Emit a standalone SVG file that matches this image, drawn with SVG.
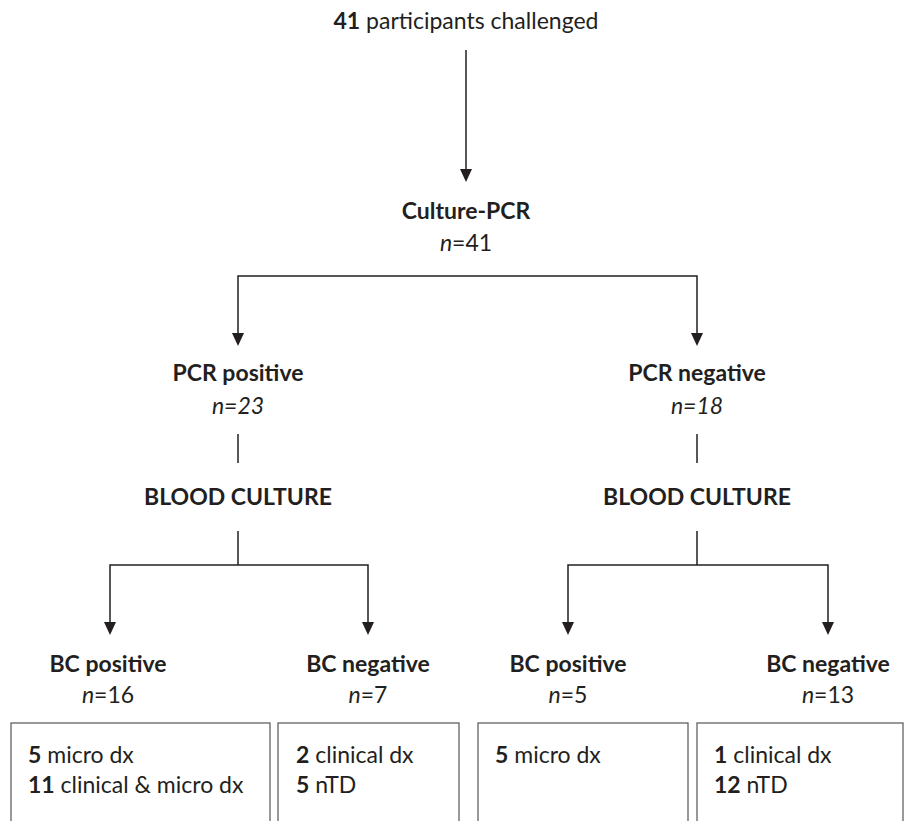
<svg xmlns="http://www.w3.org/2000/svg" width="904" height="821" viewBox="0 0 904 821">
<style>
text{font-family:Lato,"Liberation Sans",sans-serif;font-size:23px;fill:#231f20}
.c{text-anchor:middle}
.b{font-weight:bold}
.i{font-style:italic}
.ln{stroke:#231f20;stroke-width:1.5;fill:none}
.ah{fill:#231f20}
.box{stroke:#555;stroke-width:1.2;fill:none}
</style>
<rect width="904" height="821" fill="#fff"/>
<g id="connectors">
<line class="ln" x1="466" y1="50" x2="466" y2="169"/>
<path class="ah" d="M460,169 L472,169 L466,182 Z"/>
<polyline class="ln" points="238,333 238,276 697,276 697,333"/>
<path class="ah" d="M232,333 L244,333 L238,346 Z"/>
<path class="ah" d="M691,333 L703,333 L697,346 Z"/>
<line class="ln" x1="238" y1="434" x2="238" y2="463"/>
<line class="ln" x1="697" y1="434" x2="697" y2="463"/>
<line class="ln" x1="238" y1="531" x2="238" y2="565"/>
<line class="ln" x1="697" y1="531" x2="697" y2="565"/>
<polyline class="ln" points="110,622 110,565 368,565 368,622"/>
<polyline class="ln" points="568,622 568,565 828,565 828,622"/>
<path class="ah" d="M104,622 L116,622 L110,635 Z"/>
<path class="ah" d="M362,622 L374,622 L368,635 Z"/>
<path class="ah" d="M562,622 L574,622 L568,635 Z"/>
<path class="ah" d="M822,622 L834,622 L828,635 Z"/>
</g>
<g id="start">
<text class="c" x="466" y="29"><tspan class="b">41</tspan> participants challenged</text>
</g>
<g id="culture-pcr">
<text class="c b" x="466" y="219">Culture-PCR</text>
<text class="c" x="466" y="251"><tspan class="i">n</tspan>=41</text>
</g>
<g id="pcr-positive">
<text class="c b" x="238" y="381">PCR positive</text>
<text class="c i" x="238" y="414">n=23</text>
</g>
<g id="pcr-negative">
<text class="c b" x="697" y="381">PCR negative</text>
<text class="c i" x="697" y="414">n=18</text>
</g>
<g id="blood-culture-left">
<text class="c b" x="238" y="505">BLOOD CULTURE</text>
</g>
<g id="blood-culture-right">
<text class="c b" x="697" y="505">BLOOD CULTURE</text>
</g>
<g id="bc-pos-1">
<text class="c b" x="108" y="672">BC positive</text>
<text class="c" x="108" y="703"><tspan class="i">n</tspan>=16</text>
<rect class="box" x="11" y="723" width="259" height="110"/>
<text x="28" y="763"><tspan class="b">5</tspan> micro dx</text>
<text x="28" y="793"><tspan class="b">11</tspan> clinical &amp; micro dx</text>
</g>
<g id="bc-neg-1">
<text class="c b" x="368" y="672">BC negative</text>
<text class="c" x="368" y="703"><tspan class="i">n</tspan>=7</text>
<rect class="box" x="278" y="723" width="181" height="110"/>
<text x="296" y="763"><tspan class="b">2</tspan> clinical dx</text>
<text x="296" y="793"><tspan class="b">5</tspan> nTD</text>
</g>
<g id="bc-pos-2">
<text class="c b" x="568" y="672">BC positive</text>
<text class="c" x="568" y="703"><tspan class="i">n</tspan>=5</text>
<rect class="box" x="478" y="723" width="210" height="110"/>
<text x="495" y="763"><tspan class="b">5</tspan> micro dx</text>
</g>
<g id="bc-neg-2">
<text class="c b" x="828" y="672">BC negative</text>
<text class="c" x="828" y="703"><tspan class="i">n</tspan>=13</text>
<rect class="box" x="697" y="723" width="206" height="110"/>
<text x="714" y="763"><tspan class="b">1</tspan> clinical dx</text>
<text x="714" y="793"><tspan class="b">12</tspan> nTD</text>
</g>
</svg>
